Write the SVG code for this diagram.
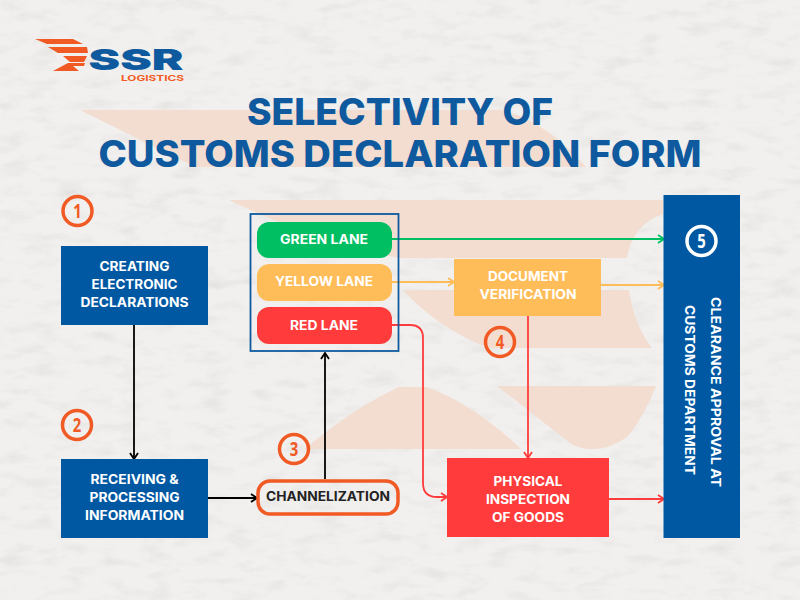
<svg xmlns="http://www.w3.org/2000/svg" width="800" height="600" viewBox="0 0 800 600">
<style>
text{font-family:"Inter","Liberation Sans",sans-serif;font-weight:700;text-anchor:middle}
.w{fill:#fff;font-size:13px}
.num{fill:#f15a24;font-size:19px;font-family:"Open Sans","Liberation Sans",sans-serif}
.ring{fill:none;stroke:#f15a24;stroke-width:3.5}
.c{fill:none;stroke-width:1.8}
.wm{fill:#f3ddd1}
.title{fill:#0f5a9e;font-size:37px;font-weight:800}
</style>
<defs>
<filter id="tex" x="0" y="0" width="100%" height="100%"><feTurbulence type="fractalNoise" baseFrequency="0.035 0.09" numOctaves="5" seed="11"/><feColorMatrix values="0 0 0 0 0.62 0 0 0 0 0.61 0 0 0 0 0.59 0.5 0.5 0 0 -0.48"/></filter>
<marker id="mk" viewBox="0 0 8 10" refX="7" refY="5" markerWidth="8" markerHeight="10" markerUnits="userSpaceOnUse" orient="auto"><path d="M1 1L7 5L1 9" fill="none" stroke="#000" stroke-width="1.8"/></marker>
<marker id="mg" viewBox="0 0 8 10" refX="7" refY="5" markerWidth="8" markerHeight="10" markerUnits="userSpaceOnUse" orient="auto"><path d="M1 1L7 5L1 9" fill="none" stroke="#00bf63" stroke-width="1.8"/></marker>
<marker id="my" viewBox="0 0 8 10" refX="7" refY="5" markerWidth="8" markerHeight="10" markerUnits="userSpaceOnUse" orient="auto"><path d="M1 1L7 5L1 9" fill="none" stroke="#ffbd59" stroke-width="1.8"/></marker>
<marker id="mr" viewBox="0 0 8 10" refX="7" refY="5" markerWidth="8" markerHeight="10" markerUnits="userSpaceOnUse" orient="auto"><path d="M1 1L7 5L1 9" fill="none" stroke="#ff3b3b" stroke-width="1.8"/></marker>
</defs>
<rect width="800" height="600" fill="#f1f0ee"/>
<rect width="800" height="600" filter="url(#tex)"/>
<g id="watermark">
<path class="wm" d="M80 110H500Q545 120 586 167H195Z"/>
<path class="wm" d="M229 200H663V214Q632 225 627 258H399Q310 240 229 200Z"/>
<path class="wm" d="M403 290H629Q634 325 652 348H489Q440 330 403 290Z"/>
<path class="wm" d="M497 386H656Q642 420 627 437Q610 449 595 449Q580 450 570 443Z"/>
<path class="wm" d="M305 449Q350 410 399 387H427Q475 405 521 449Z"/>
</g>
<g id="logo">
<path fill="#f15a24" d="M35 39H73L83 44H47ZM48 47H87L88 53H58ZM63 56H87L84 62H70ZM53 71L68 63H85L84 66H73L79 71Z"/>
<text x="136" y="69.500" textLength="95" lengthAdjust="spacingAndGlyphs" style="font-size:29px;font-weight:900;fill:#0f5a9e">SSR</text>
<text x="152.500" y="80.500" textLength="63" lengthAdjust="spacingAndGlyphs" style="font-size:8px;fill:#f15a24">LOGISTICS</text>
</g>
<text class="title" x="400" y="125" textLength="306" lengthAdjust="spacingAndGlyphs">SELECTIVITY OF</text>
<text class="title" x="400" y="167" textLength="603" lengthAdjust="spacingAndGlyphs">CUSTOMS DECLARATION FORM</text>
<g id="connectors">
<path class="c" stroke="#000" marker-end="url(#mk)" d="M134 325V459"/>
<path class="c" stroke="#000" marker-end="url(#mk)" d="M208 498H257"/>
<path class="c" stroke="#000" marker-end="url(#mk)" d="M325 479V353"/>
<path class="c" stroke="#00bf63" marker-end="url(#mg)" d="M392 239H664"/>
<path class="c" stroke="#ffbd59" marker-end="url(#my)" d="M392 282H454"/>
<path class="c" stroke="#ffbd59" marker-end="url(#my)" d="M601 285H664"/>
<path class="c" stroke="#ff3b3b" marker-end="url(#mr)" d="M392 325H410Q423 325 423 338V483Q423 497 437 497H447"/>
<path class="c" stroke="#ff3b3b" marker-end="url(#mr)" d="M528 316V458"/>
<path class="c" stroke="#ff3b3b" marker-end="url(#mr)" d="M609 499H664"/>
</g>
<g id="lanes-box"><rect x="250.500" y="214" width="148" height="137" fill="none" stroke="#0f5a9e" stroke-width="1.800"/></g>
<g id="green-lane"><rect x="257" y="222" width="135" height="36" rx="12" fill="#00bf63"/><text class="w" x="324" y="244" textLength="88" lengthAdjust="spacingAndGlyphs">GREEN LANE</text></g>
<g id="yellow-lane"><rect x="257" y="264" width="135" height="37" rx="12" fill="#ffbd59"/><text class="w" x="324" y="286" textLength="98" lengthAdjust="spacingAndGlyphs">YELLOW LANE</text></g>
<g id="red-lane"><rect x="257" y="307" width="135" height="37" rx="12" fill="#ff3b3b"/><text class="w" x="324" y="330" textLength="68" lengthAdjust="spacingAndGlyphs">RED LANE</text></g>
<g id="step1"><rect x="61" y="246" width="147" height="79" fill="#0058a3"/><text class="w" x="134.500" y="271" textLength="70" lengthAdjust="spacingAndGlyphs">CREATING</text><text class="w" x="134.500" y="289" textLength="86" lengthAdjust="spacingAndGlyphs">ELECTRONIC</text><text class="w" x="134.500" y="307" textLength="108" lengthAdjust="spacingAndGlyphs">DECLARATIONS</text></g>
<g id="step2"><rect x="61" y="459" width="147" height="79" fill="#0058a3"/><text class="w" x="134.500" y="484" textLength="88" lengthAdjust="spacingAndGlyphs">RECEIVING &amp;</text><text class="w" x="134.500" y="502" textLength="90" lengthAdjust="spacingAndGlyphs">PROCESSING</text><text class="w" x="134.500" y="520" textLength="99" lengthAdjust="spacingAndGlyphs">INFORMATION</text></g>
<g id="channelization"><rect x="258" y="481" width="140" height="33" rx="12" fill="none" stroke="#f15a24" stroke-width="3.500"/><text x="328" y="501" textLength="124" lengthAdjust="spacingAndGlyphs" style="font-size:13px;fill:#222">CHANNELIZATION</text></g>
<g id="document-verification"><rect x="454" y="259" width="147" height="57" fill="#ffbd59"/><text class="w" x="528" y="281" textLength="80" lengthAdjust="spacingAndGlyphs">DOCUMENT</text><text class="w" x="528" y="299" textLength="97" lengthAdjust="spacingAndGlyphs">VERIFICATION</text></g>
<g id="physical-inspection"><rect x="447" y="458" width="162" height="79" fill="#ff3b3b"/><text class="w" x="528" y="486" textLength="69" lengthAdjust="spacingAndGlyphs">PHYSICAL</text><text class="w" x="528" y="504" textLength="84" lengthAdjust="spacingAndGlyphs">INSPECTION</text><text class="w" x="528" y="522" textLength="72" lengthAdjust="spacingAndGlyphs">OF GOODS</text></g>
<g id="clearance"><rect x="663.500" y="195" width="76.500" height="343" fill="#0058a3"/>
<circle cx="701.500" cy="241" r="14.500" fill="none" stroke="#fff" stroke-width="3.500"/><text x="701.500" y="248" textLength="8.500" lengthAdjust="spacingAndGlyphs" style="font-size:19px;fill:#fff;font-family:'Open Sans','Liberation Sans',sans-serif">5</text>
<text class="w" transform="translate(711 392) rotate(90)" textLength="190" lengthAdjust="spacingAndGlyphs">CLEARANCE APPROVAL AT</text><text class="w" transform="translate(685 390) rotate(90)" textLength="170" lengthAdjust="spacingAndGlyphs">CUSTOMS DEPARTMENT</text></g>
<g id="n1"><circle class="ring" cx="77.500" cy="211" r="14.500"/><text class="num" x="77.500" y="218" textLength="8.500" lengthAdjust="spacingAndGlyphs">1</text></g>
<g id="n2"><circle class="ring" cx="77" cy="425" r="14.500"/><text class="num" x="77" y="432" textLength="8.500" lengthAdjust="spacingAndGlyphs">2</text></g>
<g id="n3"><circle class="ring" cx="294" cy="449" r="14.500"/><text class="num" x="294" y="456" textLength="8.500" lengthAdjust="spacingAndGlyphs">3</text></g>
<g id="n4"><circle class="ring" cx="500" cy="342" r="14.500"/><text class="num" x="500" y="349" textLength="8.500" lengthAdjust="spacingAndGlyphs">4</text></g>
</svg>
